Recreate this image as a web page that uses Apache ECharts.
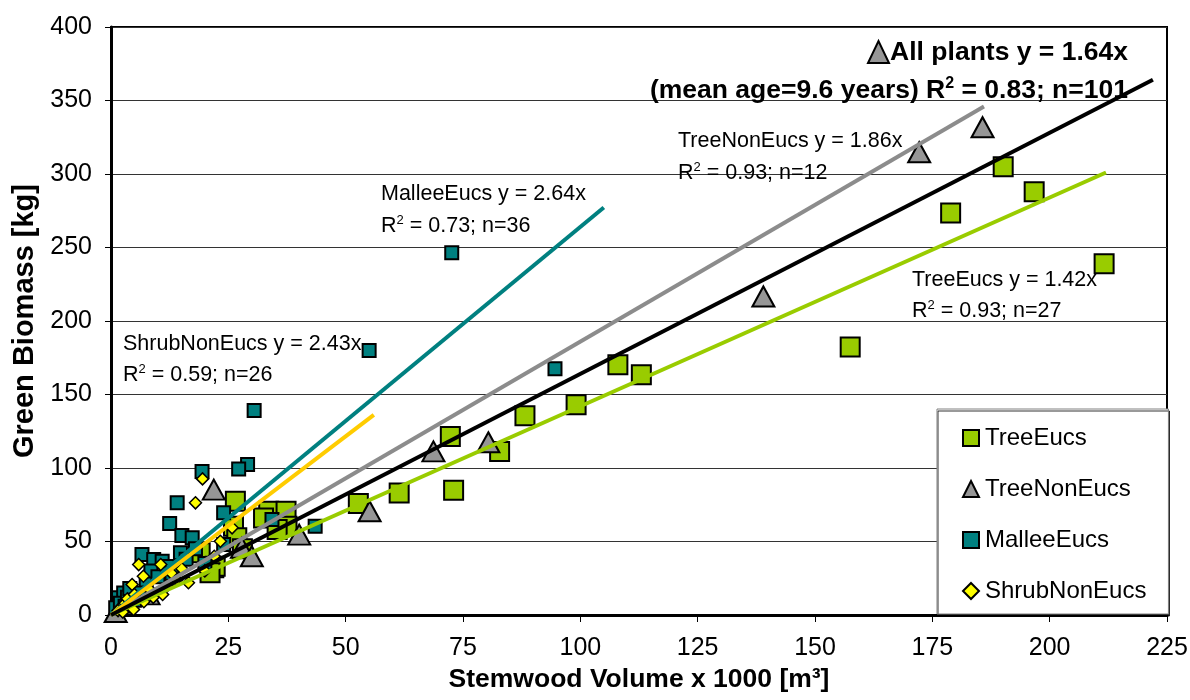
<!DOCTYPE html>
<html>
<head>
<meta charset="utf-8">
<script src="https://cdn.jsdelivr.net/npm/echarts@6/dist/echarts.min.js"></script>
<style>
html, body { margin: 0; padding: 0; background: #fff; }
#main { width: 1190px; height: 700px; }
</style>
</head>
<body>
<div id="main"></div>
<script>
// stemwood volume (x1000 m3) vs green biomass (kg)
let treeEucs = [
    [211.6, 239], [196.7, 288], [190.1, 305], [178.9, 273.4], [157.5, 182.3],
    [113, 163.5], [108, 170.3], [99.1, 143], [88.2, 135.6], [72.3, 121.5],
    [82.8, 111.3], [73, 84.8], [61.4, 83], [52.7, 75.8], [26.5, 77.4],
    [33.6, 70.6], [37.3, 70.6], [32.5, 66], [37.5, 60.4], [35.4, 58.1],
    [26.1, 60.4], [26.8, 52.5], [21.9, 32.1], [19, 42.3], [22.2, 33.2],
    [21.1, 28.7], [28, 45]
];
let treeNonEucs = [
    [185.7, 331.8], [172.2, 314.8], [139, 216.7], [80.4, 117.5], [68.7, 111.3],
    [55.1, 70.6], [40.1, 54.7], [21.9, 85.3], [27.9, 45.7], [1, 2],
    [8, 14], [30, 40]
];
let malleeEucs = [
    [72.6, 246.4], [55, 180], [94.6, 167.5], [30.5, 139.2], [29.1, 102.3],
    [27.2, 99.4], [19.4, 97.7], [14.1, 76.3], [24, 69.5], [12.5, 62.2],
    [15.1, 54], [17.3, 52.5], [34.3, 64.9], [43.5, 60.4], [6.6, 41.1],
    [9.1, 37.7], [10.9, 36.6], [14.8, 42.3], [1.6, 11.7], [2.7, 15],
    [1, 5], [2, 8], [3.5, 12], [4, 18], [5, 10],
    [7.5, 22], [8.5, 30], [10, 26], [12, 33], [13, 28],
    [16, 38], [18, 45], [20, 35], [24, 48], [3, 6], [6, 15]
];
let shrubNonEucs = [
    [19.5, 92.6], [18, 76.3], [25.8, 59.3], [23.3, 50.2], [5.9, 34.3],
    [6.9, 26.4], [10.6, 34.3], [4.5, 20.7], [15.1, 31.4], [16.5, 21.9],
    [4.8, 3.7], [2, 5], [3, 8], [8, 18], [9, 12],
    [12, 20], [13, 28], [1.5, 3], [3.5, 11], [7, 9],
    [11, 14], [14, 24], [20, 30], [22, 40], [5, 14], [2.5, 2]
];

let groupNames = ['TreeEucs', 'TreeNonEucs', 'MalleeEucs', 'ShrubNonEucs'];
let groupColors = ['#99CC00', '#969696', '#008080', '#FFFF00'];

// trend lines y = slope * x, drawn from 0 to the largest x of the group
let trendSlopes = [1.42, 1.86, 2.64, 2.43, 1.64];
let trendXEnd = [212, 186, 105, 56, 222];
let trendColors = ['#99CC00', '#8C8C8C', '#008080', '#FFCC00', '#000000'];

let xTicks = [0, 225, 25];
let yTicks = [0, 400, 50];

let myChart = echarts.init(document.getElementById('main'));

let font = 'Liberation Sans, Arial, sans-serif';

let scatterSeries = [
    { data: treeEucs, symbol: 'rect', size: 19, bw: 2 },
    { data: treeNonEucs, symbol: 'triangle', size: [22, 20], bw: 2 },
    { data: malleeEucs, symbol: 'rect', size: 13, bw: 2 },
    { data: shrubNonEucs, symbol: 'diamond', size: 12, bw: 1.5 }
].map((s, i) => ({
    name: groupNames[i],
    type: 'scatter',
    data: s.data,
    symbol: s.symbol,
    symbolSize: s.size,
    z: 2,
    itemStyle: {
        color: groupColors[i],
        borderColor: '#000',
        borderWidth: s.bw,
        opacity: 1
    }
}));

let trendSeries = trendSlopes.map((k, i) => ({
    type: 'line',
    silent: true,
    symbol: 'none',
    z: 3,
    lineStyle: { color: trendColors[i], width: 4 },
    data: [[0, 0], [trendXEnd[i], k * trendXEnd[i]]]
}));

// annotation texts
let eqRich = {
    t: { fontSize: 21.5, fontFamily: font, color: '#000', lineHeight: 24 },
    s: { fontSize: 13, fontFamily: font, color: '#000', verticalAlign: 'top', lineHeight: 14 }
};
let boldRich = {
    t: { fontSize: 26.5, fontWeight: 'bold', fontFamily: font, color: '#000', lineHeight: 30 },
    s: { fontSize: 16, fontWeight: 'bold', fontFamily: font, color: '#000', verticalAlign: 'top', lineHeight: 16 }
};
let note = (x, y, text, rich, align) => ({
    type: 'text',
    x: x,
    y: y,
    z: 10,
    style: {
        text: text,
        rich: rich,
        align: align || 'left',
        verticalAlign: 'middle'
    }
});

let option = {
    backgroundColor: '#fff',
    animation: false,
    grid: {
        left: 111,
        right: 23,
        top: 27,
        bottom: 85,
        outerBoundsMode: 'none',
        containLabel: false,
        show: true,
        borderColor: '#000',
        borderWidth: 2
    },
    legend: {
        orient: 'vertical',
        left: 937,
        top: 409,
        data: groupNames,
        backgroundColor: '#fff',
        borderColor: '#808080',
        borderWidth: 1,
        shadowColor: 'rgba(0,0,0,0.8)',
        shadowOffsetX: 1,
        shadowOffsetY: 2,
        padding: [17, 22, 11, 25],
        itemGap: 27,
        itemWidth: 16,
        itemHeight: 16,
        textStyle: { fontSize: 24, fontFamily: font, color: '#000', padding: [0, 0, 0, 1] }
    },
    xAxis: {
        type: 'value',
        min: xTicks[0],
        max: xTicks[1],
        interval: xTicks[2],
        name: 'Stemwood Volume x 1000 [m³]',
        nameLocation: 'middle',
        nameGap: 49,
        nameTextStyle: { fontSize: 26.5, fontWeight: 'bold', fontFamily: font, color: '#000' },
        axisLine: { show: true, onZero: false, lineStyle: { color: '#000', width: 3 } },
        axisTick: { show: true, length: 7, lineStyle: { color: '#000', width: 1 } },
        axisLabel: { fontSize: 25, fontFamily: font, color: '#000', margin: 21 },
        splitLine: { show: false }
    },
    yAxis: {
        type: 'value',
        min: yTicks[0],
        max: yTicks[1],
        interval: yTicks[2],
        name: 'Green Biomass [kg]',
        nameLocation: 'middle',
        nameGap: 70,
        nameTextStyle: { fontSize: 29, fontWeight: 'bold', fontFamily: font, color: '#000' },
        axisLine: { show: true, onZero: false, lineStyle: { color: '#000', width: 3 } },
        axisTick: { show: true, length: 6, lineStyle: { color: '#000', width: 1 } },
        axisLabel: { fontSize: 25, fontFamily: font, color: '#000', margin: 19 },
        splitLine: { show: true, lineStyle: { color: '#333', width: 1 } }
    },
    graphic: [
        {
            // small triangle glyph in front of the "All plants" caption
            type: 'polygon',
            z: 10,
            shape: { points: [[868, 63], [889, 63], [878.5, 41]] },
            style: { fill: '#969696', stroke: '#000', lineWidth: 2 }
        },
        note(1128, 53, '{t|All plants y = 1.64x}', boldRich, 'right'),
        note(1128, 91, '{t|(mean age=9.6 years) R}{s|2}{t| = 0.83; n=101}', boldRich, 'right'),
        note(678, 141, '{t|TreeNonEucs y = 1.86x}', eqRich),
        note(678, 173, '{t|R}{s|2}{t| = 0.93; n=12}', eqRich),
        note(381, 194, '{t|MalleeEucs y = 2.64x}', eqRich),
        note(381, 226, '{t|R}{s|2}{t| = 0.73; n=36}', eqRich),
        note(123, 344, '{t|ShrubNonEucs y = 2.43x}', eqRich),
        note(123, 375, '{t|R}{s|2}{t| = 0.59; n=26}', eqRich),
        note(912, 280, '{t|TreeEucs y = 1.42x}', eqRich),
        note(912, 311, '{t|R}{s|2}{t| = 0.93; n=27}', eqRich)
    ],
    series: scatterSeries.concat(trendSeries)
};
myChart.setOption(option);
</script>
</body>
</html>
